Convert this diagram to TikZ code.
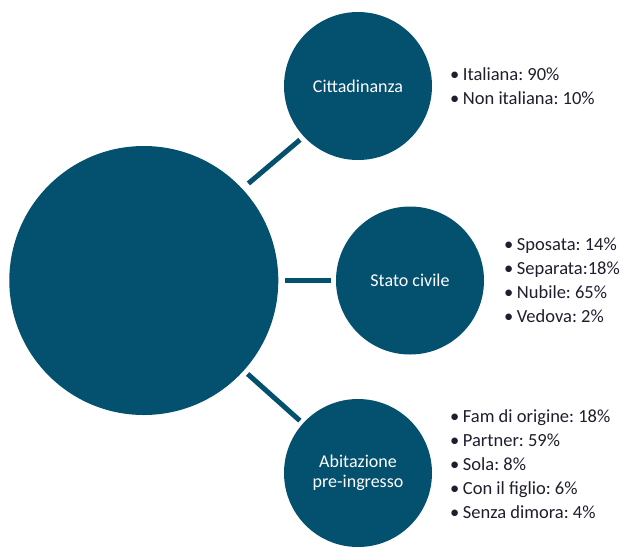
\documentclass[tikz,border=0pt]{standalone}
\usepackage{fontspec}
\setmainfont{Carlito}
\definecolor{bubble}{HTML}{04506F}
\definecolor{ink}{HTML}{1E1E2C}
\begin{document}
\frenchspacing
\begin{tikzpicture}[x=1pt,y=-1pt,
  bubble/.style={circle, fill=bubble, draw=none, inner sep=0pt, text=white,
    align=center, font=\fontsize{18}{20}\selectfont},
  link/.style={draw=bubble, line width=5pt},
  facts/.style={anchor=west, align=left, text=ink, inner sep=0pt,
    font=\fontsize{18.5}{24}\selectfont}]
\useasboundingbox (0,0) rectangle (621,547);

% central bubble and the three topic bubbles
\node[bubble, minimum size=269] (core) at (143.8,280.5) {};
\node[bubble, minimum size=148] (cit) at (358,86) {Cittadinanza};
\node[bubble, minimum size=148] (civ) at (410,280.5) {Stato civile};
\node[bubble, minimum size=148] (abi) at (358,473) {Abitazione\\pre-ingresso};

% connectors
\draw[link, shorten <=8pt, shorten >=5pt] (core.43) -- (cit.223);
\draw[link, shorten <=6pt, shorten >=5pt] (core.0) -- (civ.180);
\draw[link, shorten <=5pt, shorten >=4pt] (core.-42.5) -- (abi.138);

% bullet lists
\node[facts] (citlist) at (450,86)
  {•\hspace{3.5pt}Italiana: 90\%\\•\hspace{3.5pt}Non italiana: 10\%};
\node[facts] (civlist) at (504,280.5)
  {•\hspace{3.5pt}Sposata: 14\%\\•\hspace{3.5pt}Separata:18\%\\%
   •\hspace{3.5pt}Nubile: 65\%\\•\hspace{3.5pt}Vedova: 2\%};
\node[facts] (abilist) at (450,464)
  {•\hspace{3.5pt}Fam di origine: 18\%\\•\hspace{3.5pt}Partner: 59\%\\%
   •\hspace{3.5pt}Sola: 8\%\\•\hspace{3.5pt}Con il figlio: 6\%\\%
   •\hspace{3.5pt}Senza dimora: 4\%};
\end{tikzpicture}
\end{document}
